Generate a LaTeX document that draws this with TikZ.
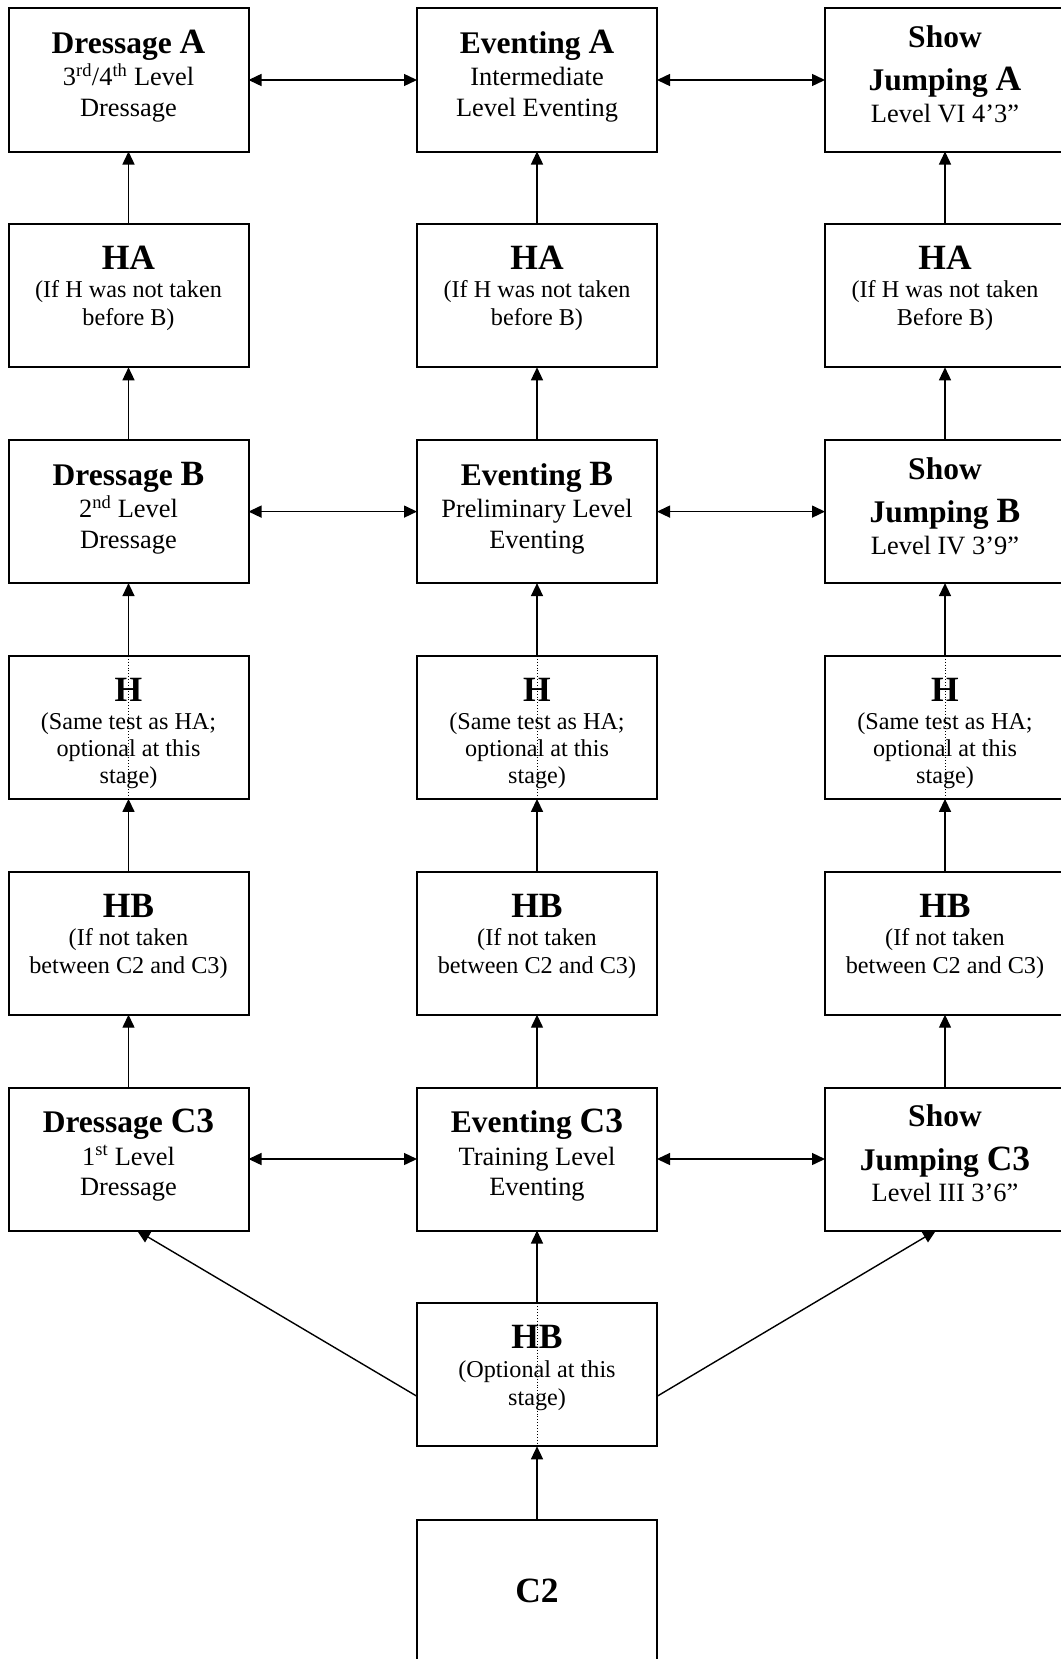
\documentclass[tikz,border=0pt]{standalone}
\usepackage{fontspec}
\setmainfont{Liberation Serif}
\usetikzlibrary{arrows.meta,calc}
\newcommand\mytitle{\bfseries\fontsize{31.5}{0}\selectfont\spaceskip=0.25em\relax}
\newcommand\myletter{\bfseries\fontsize{35.5}{0}\selectfont\spaceskip=0.25em\relax}
\newcommand\mybody{\fontsize{26.4}{0}\selectfont\spaceskip=0.25em\relax}
\newcommand\mysmall{\fontsize{24.2}{0}\selectfont\spaceskip=0.25em\relax}
\begin{document}
\begin{tikzpicture}[x=1pt,y=-1pt,
  box/.style={draw, line width=2pt, minimum width=240pt, minimum height=143pt, inner sep=0pt, outer sep=0pt},
  txt/.style={text width=236pt, align=center, inner sep=0pt, anchor=base,
    execute at begin node={\lineskiplimit=-1000pt\lineskip=0pt\mybody}},
  conn/.style={line width=1.4pt},
  tip/.style={-{Triangle[length=13pt,width=12pt]}},
  tips/.style={{Triangle[length=13pt,width=12pt]}-{Triangle[length=13pt,width=12pt]}},
  dot/.style={dotted, line width=0.9pt}]
\fill[white] (0,0) rectangle (1060,1659);
\useasboundingbox (0,0) rectangle (1060,1659);

% boxes
\node[box] (da) at (128.5,80) {};
\node[box] (ea) at (537,80) {};
\node[box] (sa) at (945,80) {};
\node[box] (ha1) at (128.5,295.8) {};
\node[box] (ha2) at (537,295.8) {};
\node[box] (ha3) at (945,295.8) {};
\node[box] (db) at (128.5,511.6) {};
\node[box] (eb) at (537,511.6) {};
\node[box] (sb) at (945,511.6) {};
\node[box] (h1) at (128.5,727.4) {};
\node[box] (h2) at (537,727.4) {};
\node[box] (h3) at (945,727.4) {};
\node[box] (hb1) at (128.5,943.2) {};
\node[box] (hb2) at (537,943.2) {};
\node[box] (hb3) at (945,943.2) {};
\node[box] (dc) at (128.5,1159) {};
\node[box] (ec) at (537,1159) {};
\node[box] (sc) at (945,1159) {};
\node[box] (hbb) at (537,1374.8) {};
\node[box] (c2) at (537,1591) {};

% texts row 1
\node[txt] (tda) at ($(da.north)+(0,45)$) {{\mytitle Dressage }{\myletter A}\\[32.5pt]3\textsuperscript{rd}/4\textsuperscript{th} Level\\[30.5pt]Dressage};
\node[txt] (tea) at ($(ea.north)+(0,45)$) {{\mytitle Eventing }{\myletter A}\\[32.5pt]Intermediate\\[30.5pt]Level Eventing};
\node[txt] (tsa) at ($(sa.north)+(0,39)$) {{\mytitle Show}\\[43.5pt]{\mytitle Jumping }{\myletter A}\\[31.5pt]Level VI 4’3”};
% row 2
\node[txt] (tha1) at ($(ha1.north)+(0,45.5)$) {{\myletter HA}\\[28pt]\mysmall (If H was not taken\\[28pt]before B)};
\node[txt] (tha2) at ($(ha2.north)+(0,45.5)$) {{\myletter HA}\\[28pt]\mysmall (If H was not taken\\[28pt]before B)};
\node[txt] (tha3) at ($(ha3.north)+(0,45.5)$) {{\myletter HA}\\[28pt]\mysmall (If H was not taken\\[28pt]Before B)};
% row 3
\node[txt] (tdb) at ($(db.north)+(0,45)$) {{\mytitle Dressage }{\myletter B}\\[32.5pt]2\textsuperscript{nd} Level\\[30.5pt]Dressage};
\node[txt] (teb) at ($(eb.north)+(0,45)$) {{\mytitle Eventing }{\myletter B}\\[32.5pt]Preliminary Level\\[30.5pt]Eventing};
\node[txt] (tsb) at ($(sb.north)+(0,39)$) {{\mytitle Show}\\[43.5pt]{\mytitle Jumping }{\myletter B}\\[31.5pt]Level IV 3’9”};
% row 4
\node[txt] (th1) at ($(h1.north)+(0,45.5)$) {{\myletter H}\\[28pt]\mysmall (Same test as HA;\\[27pt]optional at this\\[27pt]stage)};
\node[txt] (th2) at ($(h2.north)+(0,45.5)$) {{\myletter H}\\[28pt]\mysmall (Same test as HA;\\[27pt]optional at this\\[27pt]stage)};
\node[txt] (th3) at ($(h3.north)+(0,45.5)$) {{\myletter H}\\[28pt]\mysmall (Same test as HA;\\[27pt]optional at this\\[27pt]stage)};
% row 5
\node[txt] (thb1) at ($(hb1.north)+(0,46)$) {{\myletter HB}\\[28pt]\mysmall (If not taken\\[28pt]between C2 and C3)};
\node[txt] (thb2) at ($(hb2.north)+(0,46)$) {{\myletter HB}\\[28pt]\mysmall (If not taken\\[28pt]between C2 and C3)};
\node[txt] (thb3) at ($(hb3.north)+(0,46)$) {{\myletter HB}\\[28pt]\mysmall (If not taken\\[28pt]between C2 and C3)};
% row 6
\node[txt] (tdc) at ($(dc.north)+(0,45)$) {{\mytitle Dressage }{\myletter C3}\\[32.5pt]1\textsuperscript{st} Level\\[30.5pt]Dressage};
\node[txt] (tec) at ($(ec.north)+(0,45)$) {{\mytitle Eventing }{\myletter C3}\\[32.5pt]Training Level\\[30.5pt]Eventing};
\node[txt] (tsc) at ($(sc.north)+(0,39)$) {{\mytitle Show}\\[43.5pt]{\mytitle Jumping }{\myletter C3}\\[31.5pt]Level III 3’6”};
% row 7, 8
\node[txt] (thbb) at ($(hbb.north)+(0,45.5)$) {{\myletter HB}\\[28.5pt]\mysmall (Optional at this\\[28pt]stage)};
\node[txt] (tc2) at ($(c2.north)+(0,82.7)$) {{\myletter C2}};

% dotted lines through boxes
\draw[dot] (h1.north) -- (h1.south);
\draw[dot] (h2.north) -- (h2.south);
\draw[dot] (h3.north) -- (h3.south);
\draw[dot] (hbb.north) -- (hbb.south);

% vertical connectors
\foreach \lo/\up in {ha1/da, ha2/ea, ha3/sa, db/ha1, eb/ha2, sb/ha3, h1/db, h2/eb, h3/sb,
  hb1/h1, hb2/h2, hb3/h3, dc/hb1, ec/hb2, sc/hb3, hbb/ec, c2/hbb}
  \draw[conn, tip] (\lo.north) -- (\up.south);

% horizontal connectors
\draw[conn, tips] (da.east) -- (ea.west);
\draw[conn, tips] (ea.east) -- (sa.west);
\draw[conn, tips] (db.east) -- (eb.west);
\draw[conn, tips] (eb.east) -- (sb.west);
\draw[conn, tips] (dc.east) -- (ec.west);
\draw[conn, tips] (ec.east) -- (sc.west);

% diagonal connectors
\draw[conn, tip] ($(hbb.west)+(0,21.5)$) -- ($(dc.south)+(8.5,0)$);
\draw[conn, tip] ($(hbb.east)+(0,21.5)$) -- ($(sc.south)+(-9,0)$);
\end{tikzpicture}
\end{document}
